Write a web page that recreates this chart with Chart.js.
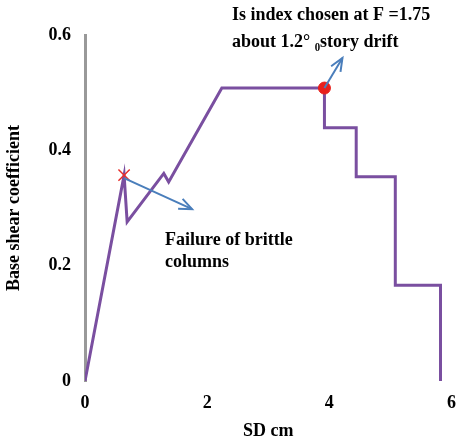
<!DOCTYPE html>
<html><head><script src="https://cdn.jsdelivr.net/npm/chart.js"></script>
<style>body{margin:0;background:#fff}#c{width:468px;height:446px}</style></head>
<body><div id="c"><canvas id="cv" width="468" height="446"></canvas></div>
<script>
const sdValues=[0,0.64,0.69,1.29,1.37,2.24,3.92,3.92,4.44,4.44,5.08,5.08,5.82,5.82];
const shearValues=[0,0.357,0.276,0.36,0.345,0.508,0.508,0.439,0.439,0.354,0.354,0.166,0.166,0];
const xTicks=[0,2,4,6];
const yTicks=[0,0.2,0.4,0.6];
const crossPoint=[0.64,0.357];
const circlePoint=[3.92,0.508];
const font="Liberation Serif";
const arrows={
 id:'arrows',
 afterDatasetsDraw(ch){
  const c=ch.ctx,x=ch.scales.x,y=ch.scales.y;
  function arrow(x1,y1,x2,y2){
   c.save();c.strokeStyle='#4a7ebb';c.lineWidth=2;
   c.beginPath();c.moveTo(x1,y1);c.lineTo(x2,y2);c.stroke();
   const a=Math.atan2(y2-y1,x2-x1),L=14;
   c.beginPath();
   c.moveTo(x2-L*Math.cos(a-0.4),y2-L*Math.sin(a-0.4));c.lineTo(x2,y2);
   c.lineTo(x2-L*Math.cos(a+0.4),y2-L*Math.sin(a+0.4));c.stroke();c.restore();
  }
  const px=x.getPixelForValue(crossPoint[0]),py=y.getPixelForValue(crossPoint[1]);
  arrow(px,py+3,px+68,py+34);
  const qx=x.getPixelForValue(circlePoint[0]),qy=y.getPixelForValue(circlePoint[1]);
  arrow(qx,qy,qx+18,qy-30);
  c.save();c.fillStyle='#000';c.font='bold 18px '+font;c.textBaseline='middle';
  c.fillText('Failure of brittle',165,240);
  c.fillText('columns',165,262);
  c.fillText('Is index chosen at F =1.75',232,15);
  c.fillText('about 1.2° ₀story drift',232,42);
  c.restore();
 }
};
new Chart(document.getElementById('cv'),{
 type:'scatter',
 data:{datasets:[
  {data:sdValues.map((v,i)=>({x:v,y:shearValues[i]})),showLine:true,borderColor:'#7a4fa0',borderWidth:3,pointRadius:0,order:3},
  {data:[{x:crossPoint[0],y:crossPoint[1]}],pointStyle:'cross',rotation:45,pointRadius:8,borderColor:'#e8302c',borderWidth:1.5,order:1},
  {data:[{x:circlePoint[0],y:circlePoint[1]}],pointStyle:'circle',pointRadius:6,backgroundColor:'#e8201c',borderColor:'#e8201c',order:1}
 ]},
 options:{animation:false,responsive:false,
  layout:{padding:{top:35,right:8,left:0,bottom:0}},
  plugins:{legend:{display:false},tooltip:{enabled:false}},
  scales:{
   x:{type:'linear',min:0,max:6,afterBuildTicks:s=>{s.ticks=xTicks.map(v=>({value:v}))},
      grid:{display:false,drawTicks:false},border:{display:false},
      ticks:{color:'#000',font:{family:font,size:18,weight:'bold'},padding:12},
      title:{display:true,text:'SD cm',color:'#000',font:{family:font,size:18,weight:'bold'},padding:{top:8}},
      afterFit:s=>{s.height=65}},
   y:{type:'linear',min:0,max:0.6,afterBuildTicks:s=>{s.ticks=yTicks.map(v=>({value:v}))},
      grid:{display:false,drawTicks:false},border:{display:true,color:'#999',width:3},
      ticks:{color:'#000',font:{family:font,size:18,weight:'bold'},padding:14,callback:v=>String(v)},
      title:{display:true,text:'Base shear coefficient',color:'#000',font:{family:font,size:18,weight:'bold'}},
      afterFit:s=>{s.width=85}}
  }}
 ,plugins:[arrows]});
</script></body></html>
